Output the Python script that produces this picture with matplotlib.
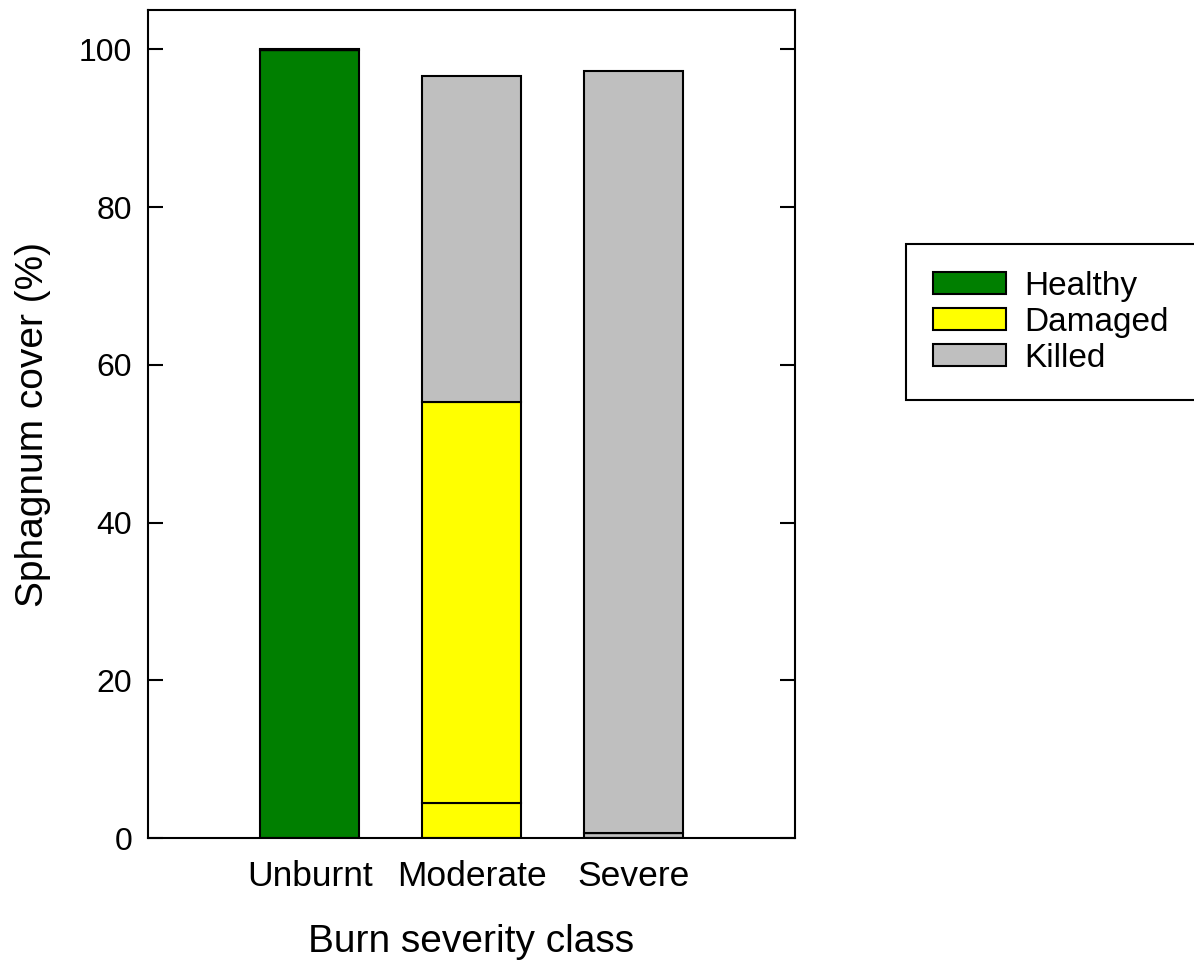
import matplotlib
matplotlib.use("Agg")
import matplotlib.pyplot as plt
import numpy as np

plt.rcParams['font.family'] = ['Liberation Sans', 'DejaVu Sans']

categories = ["Unburnt", "Moderate", "Severe"]
healthy = [99.9, 0.0, 0.0]
killed_low = [0.0, 0.0, 0.6]
damaged_low = [0.0, 4.4, 0.0]
damaged_high = [0.0, 50.9, 0.0]
killed_high = [0.15, 41.3, 96.7]

green = "#007F00"
yellow = "#FFFF00"
grey = "#BFBFBF"

fig = plt.figure(figsize=(11.94, 9.72), dpi=100)
ax = fig.add_axes([148/1194, 1-838/972, (795-148)/1194, (838-10)/972])

x = np.arange(len(categories))
w = 0.61
bottom = np.zeros(len(categories))
series = [(healthy, green, "Healthy"), (killed_low, grey, None),
          (damaged_low, yellow, "Damaged"), (damaged_high, yellow, None),
          (killed_high, grey, "Killed")]
handles = {}
for vals, col, lab in series:
    vals = np.array(vals)
    bars = ax.bar(x, vals, w, bottom=bottom, color=col, edgecolor="black", linewidth=1.5)
    if lab:
        handles[lab] = bars
    bottom += vals

ax.set_xlim(-1, 3)
ax.set_ylim(0, 105)
ax.set_xticks(x)
ax.set_xticklabels(categories)
ax.set_yticks([0, 20, 40, 60, 80, 100])
ax.tick_params(axis='x', length=0, labelsize=25.5, pad=16)
ax.tick_params(axis='y', direction='in', length=11, width=1.5, labelsize=23, right=True, pad=11.5)
for s in ax.spines.values():
    s.set_linewidth(1.5)
ax.set_xlabel("Burn severity class", fontsize=28, labelpad=22)
ax.set_ylabel("Sphagnum cover (%)", fontsize=28, labelpad=20)

leg = fig.legend([handles["Healthy"], handles["Damaged"], handles["Killed"]],
                 ["Healthy", "Damaged", "Killed"],
                 loc="upper left", bbox_to_anchor=(906/1194, 1-244/972),
                 fontsize=24, frameon=True, fancybox=False, edgecolor="black",
                 framealpha=1, handlelength=2.2, handleheight=0.6, labelspacing=0.15,
                 borderpad=0.8, borderaxespad=0, handletextpad=0.55)
leg.get_frame().set_linewidth(1.5)

fig.savefig("out.png", dpi=100)
